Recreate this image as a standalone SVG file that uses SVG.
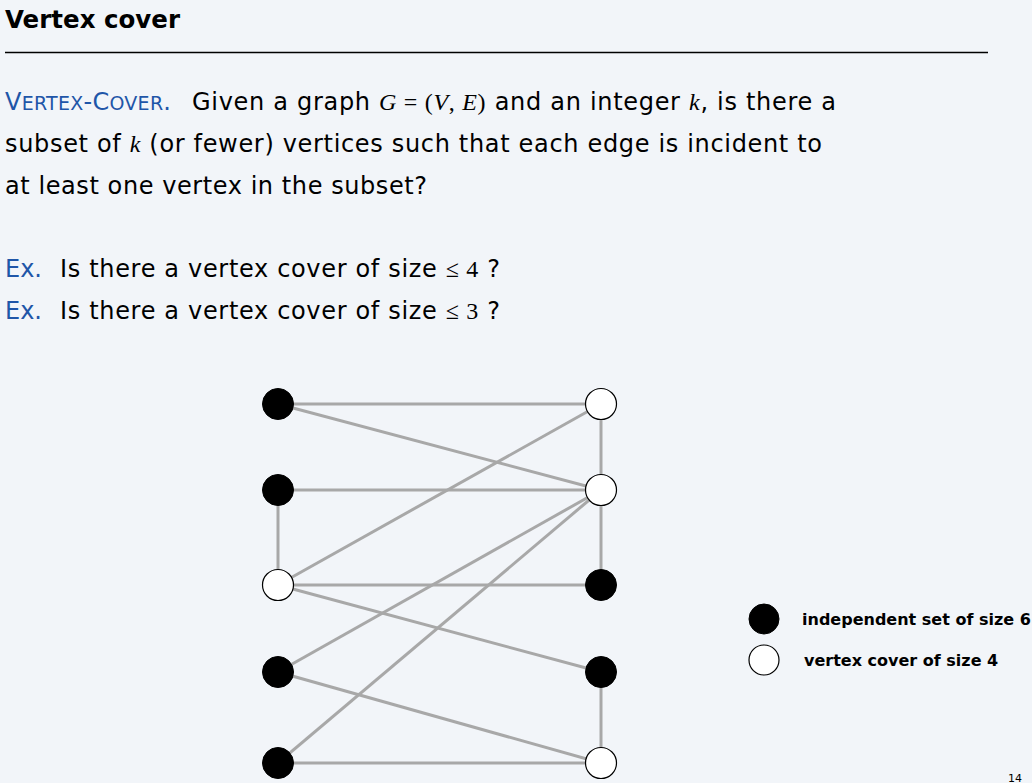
<svg xmlns="http://www.w3.org/2000/svg" width="1032" height="783" viewBox="0 0 1032 783">
<style>
.t{font-family:"DejaVu Sans","Liberation Sans",sans-serif;fill:#000}
.b{fill:#1f56a8}
.m{font-family:"Liberation Serif","DejaVu Serif",serif;font-style:italic}
.mr{font-family:"Liberation Serif","DejaVu Serif",serif}
.e{stroke:#a8a8a8;stroke-width:3;fill:none}
.blk{fill:#000;stroke:#000;stroke-width:1}
.wht{fill:#fff;stroke:#000;stroke-width:1.2}
</style>
<rect width="1032" height="783" fill="#f2f5f9"/>
<text class="t" x="5" y="28" font-size="25" font-weight="bold" textLength="175" lengthAdjust="spacingAndGlyphs">Vertex cover</text>
<line x1="5" y1="52.5" x2="988" y2="52.5" stroke="#000" stroke-width="1.3"/>
<g class="t" font-size="24">
<text class="b" x="5" y="110" textLength="166">V<tspan font-size="19">ERTEX</tspan>-C<tspan font-size="19">OVER</tspan>.</text>
<text x="192" y="110" textLength="644">Given a graph <tspan class="m">G</tspan><tspan class="mr"> = (</tspan><tspan class="m">V</tspan><tspan class="mr">, </tspan><tspan class="m">E</tspan><tspan class="mr">)</tspan> and an integer <tspan class="m">k</tspan>, is there a</text>
<text x="5" y="152" textLength="817">subset of <tspan class="m">k</tspan> (or fewer) vertices such that each edge is incident to</text>
<text x="5" y="194" textLength="422">at least one vertex in the subset?</text>
<text class="b" x="5" y="277">Ex.</text>
<text x="60" y="277" textLength="440">Is there a vertex cover of size <tspan class="mr">≤ 4</tspan> ?</text>
<text class="b" x="5" y="319">Ex.</text>
<text x="60" y="319" textLength="440">Is there a vertex cover of size <tspan class="mr">≤ 3</tspan> ?</text>
</g>
<g id="edges">
<line class="e" x1="278" y1="404" x2="601" y2="404"/>
<line class="e" x1="278" y1="404" x2="601" y2="490"/>
<line class="e" x1="278" y1="490" x2="601" y2="490"/>
<line class="e" x1="278" y1="490" x2="278" y2="585"/>
<line class="e" x1="278" y1="585" x2="601" y2="404"/>
<line class="e" x1="278" y1="585" x2="601" y2="585"/>
<line class="e" x1="278" y1="585" x2="601" y2="672"/>
<line class="e" x1="278" y1="672" x2="601" y2="490"/>
<line class="e" x1="278" y1="672" x2="601" y2="763"/>
<line class="e" x1="278" y1="763" x2="601" y2="490"/>
<line class="e" x1="278" y1="763" x2="601" y2="763"/>
<line class="e" x1="601" y1="404" x2="601" y2="490"/>
<line class="e" x1="601" y1="490" x2="601" y2="585"/>
<line class="e" x1="601" y1="672" x2="601" y2="763"/>
</g>
<g id="L1"><circle class="blk" cx="278" cy="404" r="15.5"/></g>
<g id="L2"><circle class="blk" cx="278" cy="490" r="15.5"/></g>
<g id="L3"><circle class="wht" cx="278" cy="585" r="15.5"/></g>
<g id="L4"><circle class="blk" cx="278" cy="672" r="15.5"/></g>
<g id="L5"><circle class="blk" cx="278" cy="763" r="15.5"/></g>
<g id="R1"><circle class="wht" cx="601" cy="404" r="15.5"/></g>
<g id="R2"><circle class="wht" cx="601" cy="490" r="15.5"/></g>
<g id="R3"><circle class="blk" cx="601" cy="585" r="15.5"/></g>
<g id="R4"><circle class="blk" cx="601" cy="672" r="15.5"/></g>
<g id="R5"><circle class="wht" cx="601" cy="763" r="15.5"/></g>
<g id="legend-is"><circle class="blk" cx="764" cy="619" r="15"/><text class="t" x="802" y="625" font-size="16" font-weight="bold">independent set of size 6</text></g>
<g id="legend-vc"><circle class="wht" cx="764" cy="660" r="15"/><text class="t" x="804" y="666" font-size="16" font-weight="bold">vertex cover of size 4</text></g>
<text class="t" x="1008" y="782" font-size="11">14</text>
</svg>
